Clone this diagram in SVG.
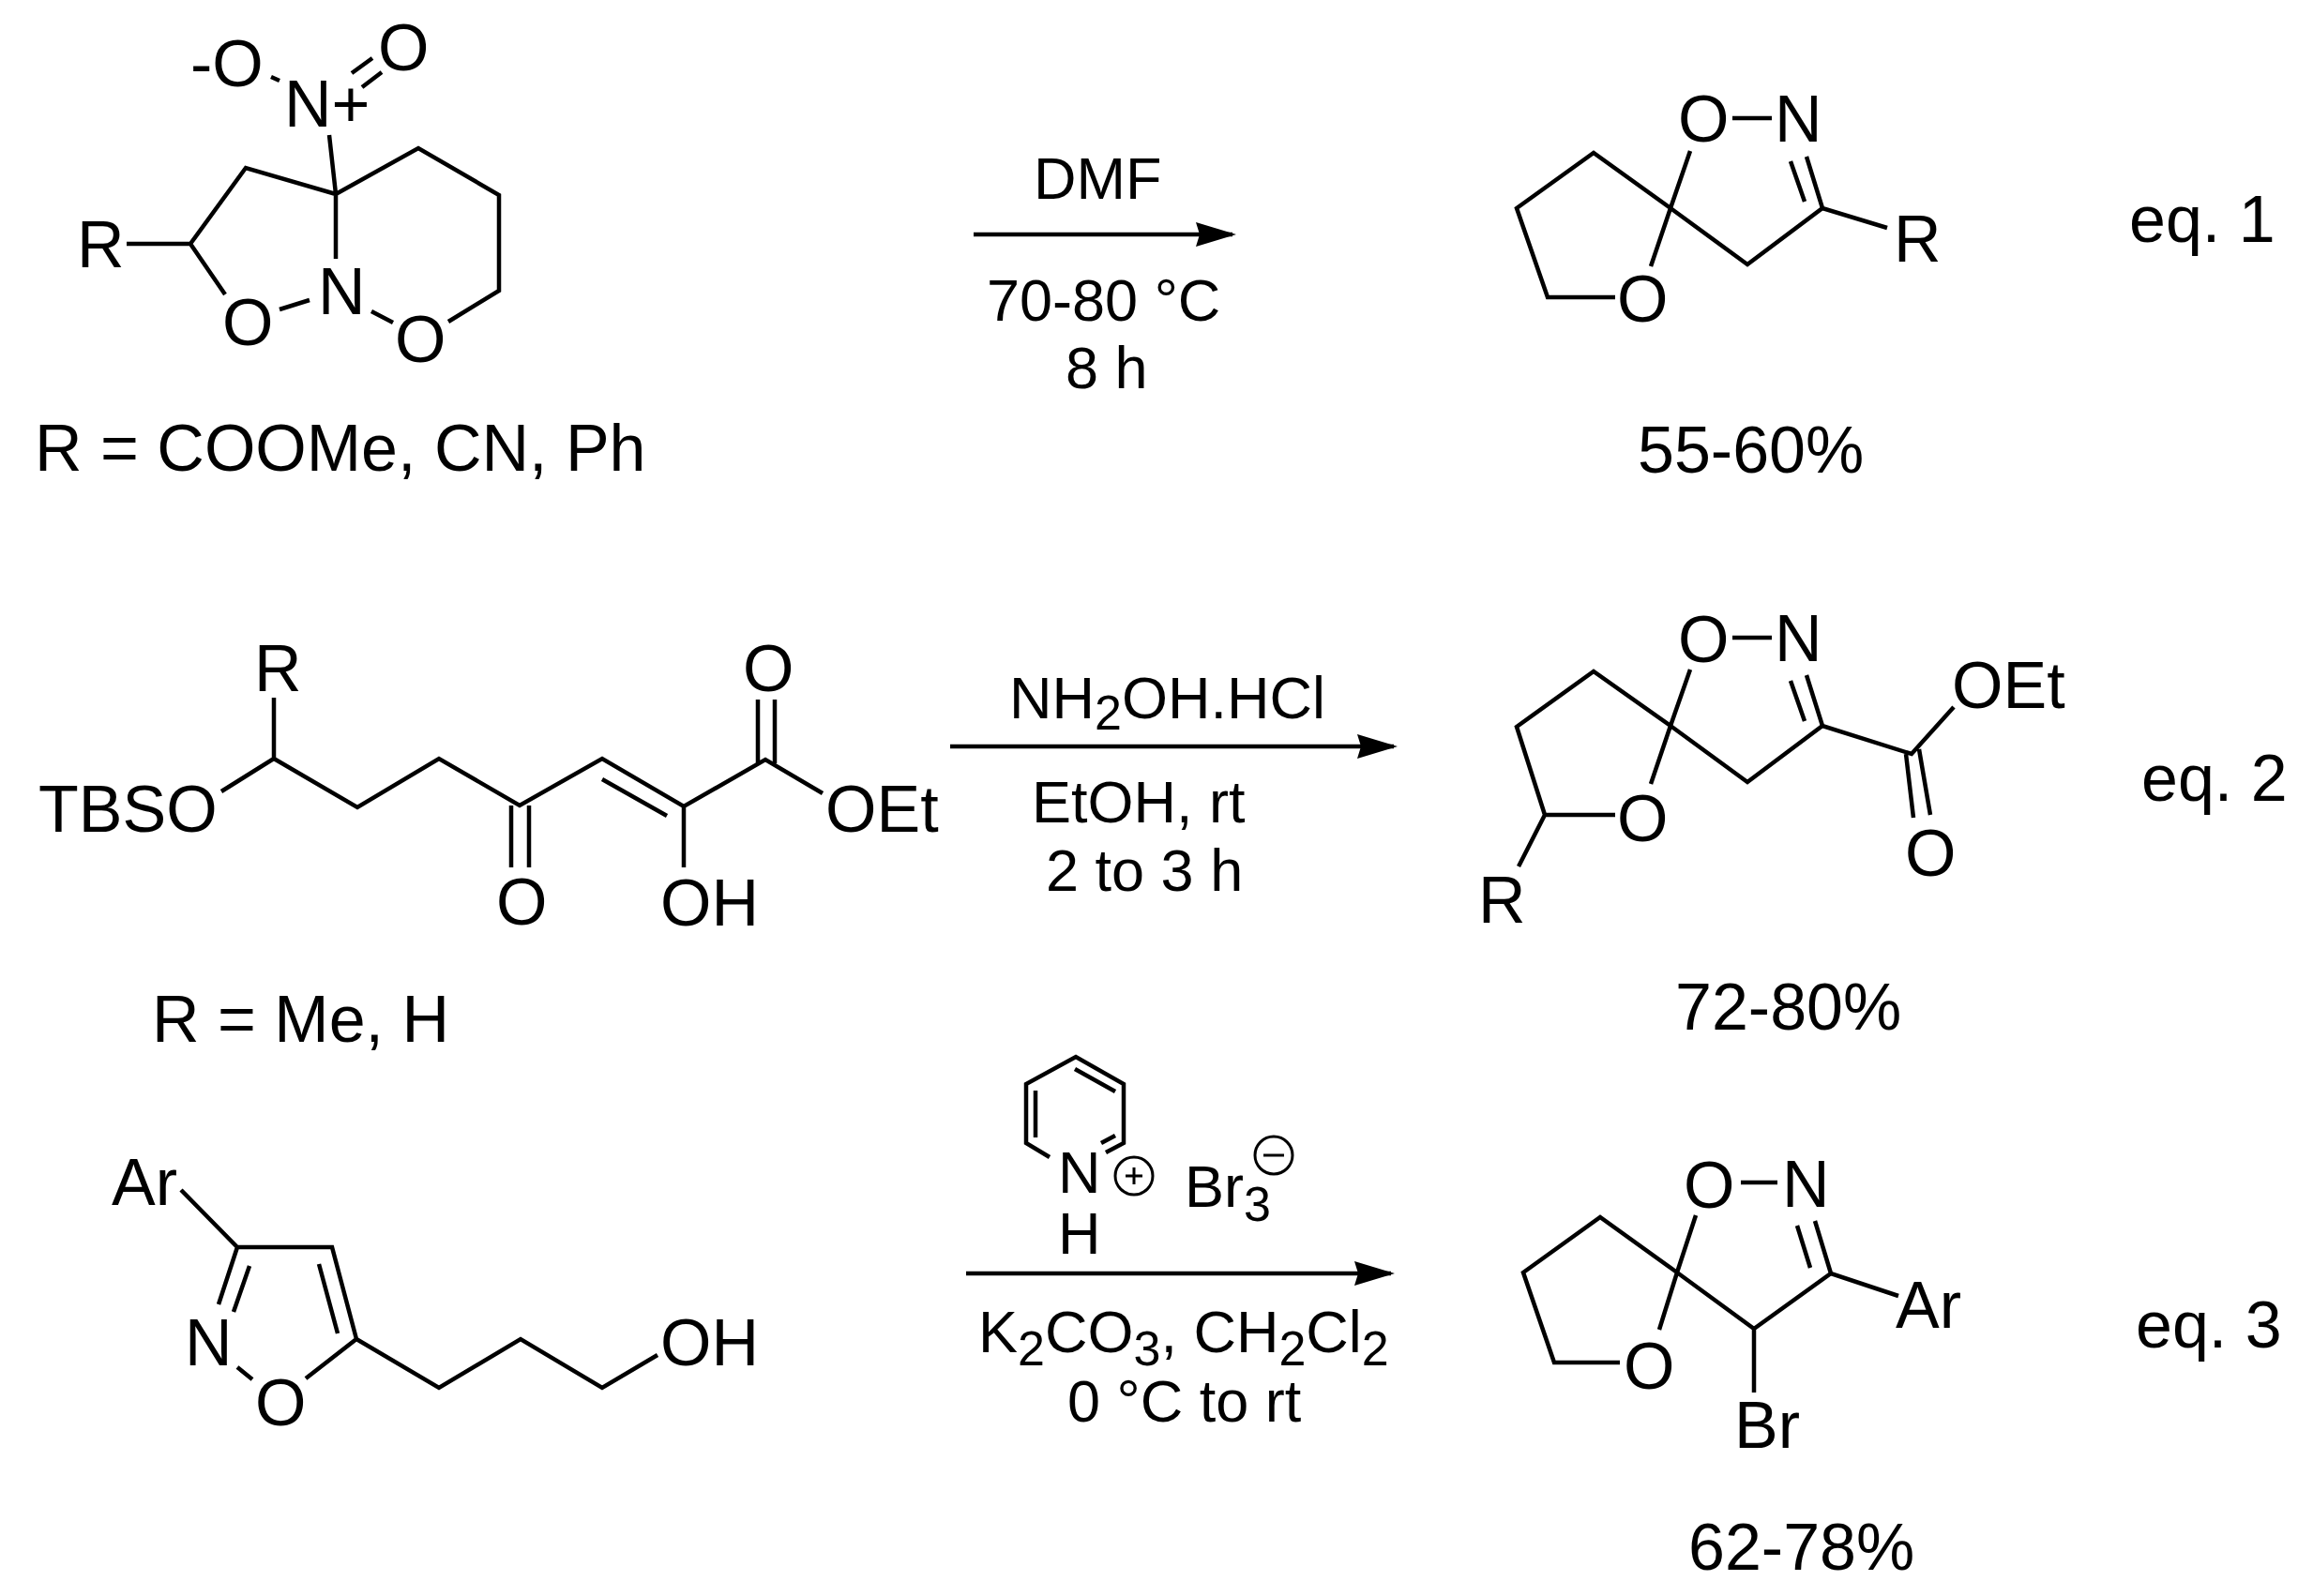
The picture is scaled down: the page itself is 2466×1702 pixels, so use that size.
<svg xmlns="http://www.w3.org/2000/svg" width="2466" height="1702" viewBox="0 0 2466 1702">
<style>
text{font-family:"Liberation Sans",Arial,sans-serif;font-size:70px;fill:#000}
.r{font-size:63px}
.s{font-size:52px}
.b{fill:none;stroke:#000;stroke-width:4.5;stroke-linejoin:miter;stroke-linecap:butt}
.t{fill:none;stroke:#000;stroke-width:3}
.a{stroke:#000;stroke-width:4.5;fill:none;marker-end:url(#head)}
</style>
<defs>
<marker id="head" markerUnits="userSpaceOnUse" markerWidth="46" markerHeight="28" refX="39" refY="13" orient="auto">
<path d="M0 0L43 13L0 26L4 13Z" fill="#000"/>
</marker>
</defs>
<rect width="2466" height="1702" fill="#fff"/>
<g id="connectors">
<line class="a" x1="1038" y1="250" x2="1314" y2="250"/>
<line class="a" x1="1013" y1="796" x2="1486" y2="796"/>
<line class="a" x1="1030" y1="1358" x2="1483" y2="1358"/>
</g>
<g id="substrate-1">
<path class="b" d="M351 144L358 207M358 276V207L262 179L203 260L240 314M135 260H203M298 330L330 320M396 332L419 344M478 343L532 310V208L446 158L358 207M289 82L298 86M375 78L397 62M386 93L407 77"/>
<text x="203" y="92">-O</text><text x="303" y="135">N+</text><text x="403" y="75">O</text>
<text x="82" y="285">R</text><text x="237" y="368">O</text><text x="339" y="335">N</text><text x="421" y="386">O</text>
<text x="37" y="502">R = COOMe, CN, Ph</text>
</g>
<g id="conditions-1">
<text class="r" x="1102" y="212">DMF</text>
<text class="r" x="1052" y="342">70-80 °C</text>
<text class="r" x="1136" y="414">8 h</text>
</g>
<g id="product-1">
<path class="b" d="M1760 284L1781 222L1802 161M1722 317H1650L1617 222L1699 163L1781 222L1863 282L1943 222L2012 243M1943 222L1926 167M1924 215L1909 172M1847 126H1889"/>
<text x="1789" y="151">O</text><text x="1892" y="151">N</text><text x="1724" y="343">O</text><text x="2019" y="279">R</text>
<text x="1746" y="504">55-60%</text>
</g>
<g id="label-eq1"><text x="2270" y="258">eq. 1</text></g>
<g id="substrate-2">
<path class="b" d="M236 844L292 809V744M292 809L381 861L468 809L554 859L642 809L729 860L816 810L877 846M642 831L711 870M545 859V925M564 859V925M729 860V925M808 746V814M826 746V814"/>
<text x="41" y="887">TBSO</text><text x="271" y="737">R</text><text x="792" y="737">O</text><text x="880" y="887">OEt</text>
<text x="529" y="986">O</text><text x="704" y="987">OH</text>
<text x="162" y="1111">R = Me, H</text>
</g>
<g id="conditions-2">
<text class="r" x="1076" y="766">NH<tspan class="s" dy="12">2</tspan><tspan dy="-12">OH.HCl</tspan></text>
<text class="r" x="1100" y="877">EtOH, rt</text>
<text class="r" x="1115" y="950">2 to 3 h</text>
</g>
<g id="product-2">
<path class="b" d="M1760 836L1781 774L1802 714M1722 869H1647L1617 775L1699 716L1781 774L1863 834L1943 774L2038 804L2083 754M1943 774L1926 720M1924 769L1909 726M1647 869L1619 924M2032 804L2040 872M2046 799L2058 869M1847 680H1889"/>
<text x="1789" y="706">O</text><text x="1892" y="705">N</text><text x="1724" y="897">O</text><text x="2081" y="755">OEt</text>
<text x="2031" y="934">O</text><text x="1576" y="984">R</text>
<text x="1786" y="1098">72-80%</text>
</g>
<g id="label-eq2"><text x="2283" y="854">eq. 2</text></g>
<g id="substrate-3">
<path class="b" d="M193 1269L253 1330H354L380 1428M340 1348L360 1422M253 1330L233 1391M266 1350L249 1399M253 1458L269 1471M326 1470L380 1428L468 1480L555 1428L642 1480L701 1445"/>
<text x="119" y="1285">Ar</text><text x="197" y="1456">N</text><text x="272" y="1520">O</text><text x="704" y="1456">OH</text>
</g>
<g id="conditions-3">
<path class="b" d="M1119 1234L1094 1219V1156L1147 1127L1198 1156V1219L1179 1229M1104 1163V1213M1146 1140L1189 1164M1189 1211L1174 1219"/>
<text class="r" x="1128" y="1272">N</text><text class="r" x="1128" y="1337">H</text>
<circle class="t" cx="1209" cy="1254" r="20"/>
<path class="t" d="M1200 1254H1218M1209 1245V1263"/>
<text class="r" x="1263" y="1287">Br<tspan class="s" dy="15">3</tspan></text>
<circle class="t" cx="1358" cy="1232" r="20"/>
<path class="t" d="M1347 1232H1369"/>
<text class="r" x="1043" y="1442">K<tspan class="s" dy="14">2</tspan><tspan dy="-14">CO</tspan><tspan class="s" dy="14">3</tspan><tspan dy="-14">, CH</tspan><tspan class="s" dy="14">2</tspan><tspan dy="-14">Cl</tspan><tspan class="s" dy="14">2</tspan></text>
<text class="r" x="1138" y="1516">0 °C to rt</text>
</g>
<g id="product-3">
<path class="b" d="M1769 1418L1788 1357L1808 1296M1727 1453H1657L1624 1357L1706 1298L1788 1357L1870 1417L1952 1358L2024 1382M1952 1358L1935 1302M1930 1352L1916 1307M1870 1417V1485M1856 1261H1895"/>
<text x="1795" y="1288">O</text><text x="1900" y="1287">N</text><text x="1731" y="1481">O</text><text x="2021" y="1416">Ar</text><text x="1849" y="1544">Br</text>
<text x="1800" y="1674">62-78%</text>
</g>
<g id="label-eq3"><text x="2277" y="1437">eq. 3</text></g>
</svg>
